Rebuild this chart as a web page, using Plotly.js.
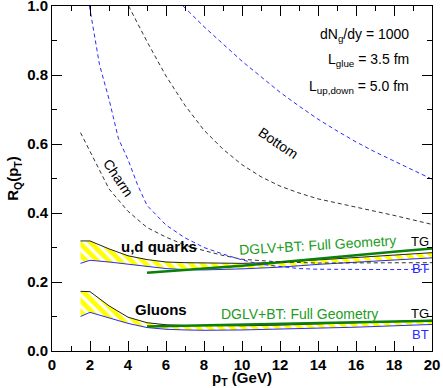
<!DOCTYPE html>
<html>
<head>
<meta charset="utf-8">
<script src="https://cdn.plot.ly/plotly-3.0.1.min.js"></script>
<style>
  html, body { margin: 0; padding: 0; background: #fff; }
  #myDiv { width: 443px; height: 388px; }
</style>
</head>
<body>
<div id="myDiv"></div>
<script>
// band grid (pT, GeV)
const xBand = [1.5, 2, 3, 4, 5, 6, 7, 8, 10, 12, 14, 16, 18, 20];

// u,d quarks: TG (upper) and BT (lower)
const udTG = [0.319, 0.319, 0.296, 0.276, 0.265, 0.258, 0.256, 0.255, 0.254, 0.257, 0.264, 0.271, 0.278, 0.285];
const udBT = [0.254, 0.263, 0.258, 0.251, 0.244, 0.239, 0.236, 0.235, 0.238, 0.243, 0.251, 0.257, 0.263, 0.270];

// gluons: TG and BT
const glTG = [0.173, 0.172, 0.131, 0.098, 0.082, 0.076, 0.074, 0.073, 0.073, 0.075, 0.078, 0.081, 0.085, 0.089];
const glBT = [0.100, 0.112, 0.096, 0.080, 0.068, 0.063, 0.061, 0.060, 0.061, 0.063, 0.066, 0.069, 0.073, 0.077];

// DGLV+BT full geometry (green)
const xFull = [5, 6, 8, 10, 12, 14, 16, 18, 20];
const udFull = [0.227, 0.231, 0.238, 0.247, 0.257, 0.268, 0.279, 0.288, 0.297];
const glFull = [0.071, 0.072, 0.074, 0.076, 0.078, 0.081, 0.084, 0.086, 0.088];

// charm
const xCharmTG = [1.5, 2, 3, 4, 5, 6, 7, 8, 9, 10, 12, 14, 16, 18, 20];
const charmTG = [0.633, 0.578, 0.470, 0.405, 0.358, 0.330, 0.307, 0.291, 0.277, 0.266, 0.258, 0.255, 0.255, 0.255, 0.256];
const xCharmBT = [1.97, 2.5, 3, 3.5, 4, 4.5, 5, 6, 7, 8, 9, 10, 11, 12, 13, 14, 16, 18, 20];
const charmBT = [1.0, 0.83, 0.73, 0.615, 0.555, 0.482, 0.422, 0.365, 0.328, 0.300, 0.281, 0.264, 0.251, 0.244, 0.239, 0.237, 0.236, 0.236, 0.237];

// bottom
const xBotTG = [4.03, 5, 6, 7, 8, 9, 10, 11, 12, 13, 14, 16, 18, 20];
const botTG = [1.0, 0.897, 0.797, 0.712, 0.640, 0.585, 0.540, 0.505, 0.478, 0.458, 0.441, 0.418, 0.393, 0.367];
const xBotBT = [6.9, 8, 9, 10, 11, 12, 13, 14, 15, 16, 17, 18, 19, 20];
const botBT = [1.0, 0.94, 0.89, 0.84, 0.795, 0.75, 0.71, 0.672, 0.638, 0.606, 0.577, 0.550, 0.523, 0.498];

const FONT = 'Liberation Sans, Arial, Helvetica, sans-serif';
const BLUE = '#2a2aff';
const GREEN = '#0a7f0a';
const GREEN_TXT = '#239b23';

const bandFill = (tg, bt) => ({
  x: xBand.concat(xBand.slice().reverse()),
  y: tg.concat(bt.slice().reverse()),
  mode: 'lines',
  fill: 'toself',
  line: { width: 0 },
  fillcolor: 'rgba(0,0,0,0)',
  fillpattern: { shape: '\\', bgcolor: '#ffff00', fgcolor: '#ffffff', size: 8, solidity: 0.4 },
  hoverinfo: 'skip',
});

const solid = (x, y, color, width) => ({
  x: x,
  y: y,
  mode: 'lines',
  line: { color: color, width: width },
});

const dashed = (x, y, color) => ({
  x: x,
  y: y,
  mode: 'lines',
  line: { color: color, width: 1, dash: '4px,3px' },
});

const data = [
  bandFill(udTG, udBT),
  bandFill(glTG, glBT),
  solid(xBand, udTG, '#222222', 1),
  solid(xBand, udBT, BLUE, 1),
  solid(xBand, glTG, '#222222', 1),
  solid(xBand, glBT, BLUE, 1),
  solid(xFull, udFull, GREEN, 2.5),
  solid(xFull, glFull, GREEN, 2.5),
  dashed(xCharmTG, charmTG, '#333333'),
  dashed(xCharmBT, charmBT, BLUE),
  dashed(xBotTG, botTG, '#333333'),
  dashed(xBotBT, botBT, BLUE),
];

const note = (x, y, text, opts) => Object.assign({
  xref: 'x',
  yref: 'y',
  x: x,
  y: y,
  text: text,
  showarrow: false,
  font: { family: FONT, size: 14, color: '#000' },
}, opts);

const annotations = [
  note(18.9, 0.916, 'dN<sub>g</sub>/dy = 1000', { xanchor: 'right' }),
  note(18.9, 0.843, 'L<sub>glue</sub> = 3.5 fm', { xanchor: 'right' }),
  note(18.9, 0.765, 'L<sub>up,down</sub> = 5.0 fm', { xanchor: 'right' }),
  note(3.49, 0.501, 'Charm', { textangle: 56 }),
  note(11.9, 0.602, 'Bottom', { textangle: 34 }),
  note(5.64, 0.302, '<b>u,d quarks</b>', { font: { family: FONT, size: 15, color: '#000' } }),
  note(5.76, 0.120, '<b>Gluons</b>', { font: { family: FONT, size: 15, color: '#000' } }),
  note(13.97, 0.307, 'DGLV+BT: Full Geometry', { textangle: -3.5, font: { family: FONT, size: 14, color: GREEN_TXT } }),
  note(13.05, 0.108, 'DGLV+BT: Full Geometry', { font: { family: FONT, size: 14, color: GREEN_TXT } }),
  note(19.38, 0.318, 'TG', { font: { family: FONT, size: 13, color: '#000' } }),
  note(19.38, 0.110, 'TG', { font: { family: FONT, size: 13, color: '#000' } }),
  note(19.38, 0.239, 'BT', { font: { family: FONT, size: 13, color: BLUE } }),
  note(19.38, 0.048, 'BT', { font: { family: FONT, size: 13, color: BLUE } }),
];

const axisBase = {
  showgrid: false,
  zeroline: false,
  showline: true,
  linecolor: '#000',
  linewidth: 1,
  mirror: 'allticks',
  ticks: 'inside',
  ticklen: 10,
  tickcolor: '#000',
  tickwidth: 1,
  ticklabeloverflow: 'allow',
  tickfont: { family: FONT, size: 15, color: '#000', weight: 700 },
  fixedrange: true,
};

const layout = {
  width: 443,
  height: 388,
  margin: { l: 52, r: 11, t: 6, b: 37 },
  paper_bgcolor: '#fff',
  plot_bgcolor: '#fff',
  showlegend: false,
  xaxis: Object.assign({}, axisBase, {
    range: [0, 20],
    tickmode: 'linear',
    tick0: 0,
    dtick: 2,
    minor: { dtick: 1, ticks: 'inside', ticklen: 5, tickcolor: '#000' },
    title: { text: '<b>p<sub>T</sub> (GeV)</b>', font: { family: FONT, size: 15, color: '#000' }, standoff: 0 },
  }),
  yaxis: Object.assign({}, axisBase, {
    range: [0, 1],
    tickmode: 'linear',
    tick0: 0,
    dtick: 0.2,
    tickformat: '.1f',
    minor: { dtick: 0.1, ticks: 'inside', ticklen: 5, tickcolor: '#000' },
    title: { text: '<b>R<sub>Q</sub>(p<sub>T</sub>)</b>', font: { family: FONT, size: 15, color: '#000' }, standoff: 4 },
  }),
  annotations: annotations,
};

Plotly.newPlot('myDiv', data, layout, { displayModeBar: false, staticPlot: true });
</script>
</body>
</html>
